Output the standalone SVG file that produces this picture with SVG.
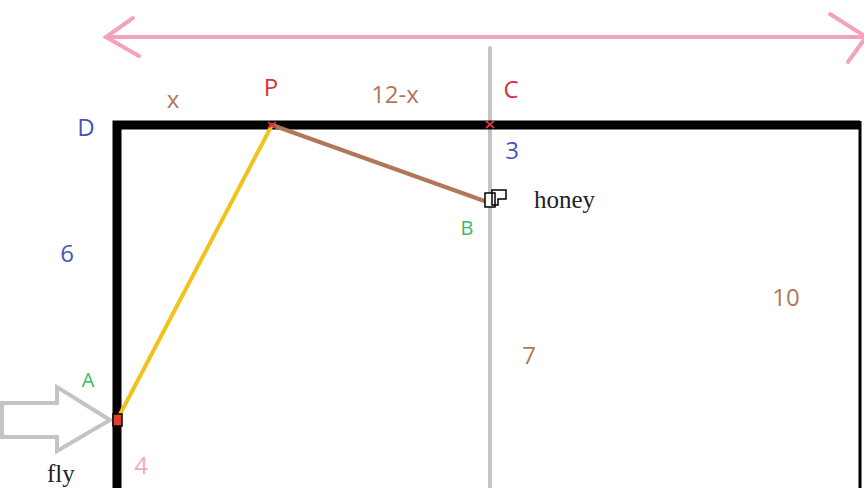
<svg xmlns="http://www.w3.org/2000/svg" width="864" height="488" viewBox="0 0 864 488">
<style>
.lbl{font-family:"Open Sans","Liberation Sans",sans-serif;font-size:24px;text-anchor:middle}
.ser{font-family:"Liberation Serif",serif;font-size:25px;fill:#222}
.blue{fill:#4a55b8}.red{fill:#d9323c}.brown{fill:#b07858}.green{fill:#3db865}.pink{fill:#f4a8c0}
</style>
<rect width="864" height="488" fill="#fff"/>
<g id="connectors" fill="none" stroke-linecap="round">
<line x1="490" y1="48" x2="490" y2="488" stroke="#c4c4c4" stroke-width="4"/>
<g stroke="#f2a3bb" stroke-width="4">
<line x1="106" y1="37" x2="864" y2="37"/>
<polyline points="133,18 106,37 139,56"/>
<polyline points="830,14 866,37 848,62"/>
</g>
<path d="M117,488 V125 H860" stroke="#000" stroke-width="9" stroke-linecap="butt"/>
<line x1="860" y1="121" x2="860" y2="488" stroke="#000" stroke-width="3" stroke-linecap="butt"/>
<line x1="272" y1="125" x2="117" y2="420" stroke="#f2c21b" stroke-width="4"/>
<line x1="272" y1="125" x2="490" y2="203" stroke="#b07858" stroke-width="4"/>
<path d="M2,403 H57 V387 L110,420 L57,451 V437 H2 Z" stroke="#c4c4c4" stroke-width="4" stroke-linejoin="miter"/>
</g>
<g id="P"><path d="M268,122 l8,6 M276,122 l-8,6" stroke="#d9323c" stroke-width="2"/><text class="lbl red" x="271" y="96">P</text></g>
<g id="C"><path d="M486,121 l8,7 M494,121 l-8,7" stroke="#d9323c" stroke-width="2"/><text class="lbl red" x="511" y="98">C</text></g>
<g id="A"><rect x="113" y="414" width="9" height="12" fill="#e0402a" stroke="#000" stroke-width="1.5"/><text class="lbl green" x="88" y="387" style="font-size:20px">A</text></g>
<g id="B"><path d="M485,193 h10 v14 h-10 z M492,190 h14 v9 h-8 v6 h-6 z" fill="#fff" stroke="#000" stroke-width="1.5"/><text class="lbl green" x="467" y="235" style="font-size:20px">B</text></g>
<g id="D"><text class="lbl blue" x="86" y="136">D</text></g>
<g id="labels">
<text class="lbl brown" x="173" y="108">x</text>
<text class="lbl brown" x="395" y="103">12-x</text>
<text class="lbl blue" x="512" y="159">3</text>
<text class="ser" x="534" y="208">honey</text>
<text class="lbl blue" x="67" y="262">6</text>
<text class="lbl brown" x="786" y="306">10</text>
<text class="lbl brown" x="529" y="364">7</text>
<text class="lbl pink" x="141" y="474">4</text>
<text class="ser" x="47" y="482">fly</text>
</g>
</svg>
